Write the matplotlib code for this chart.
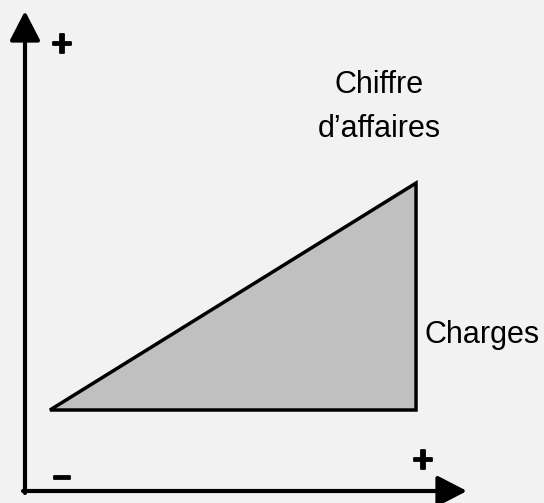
import matplotlib.pyplot as plt
import matplotlib.patheffects as pe
from matplotlib.patches import Polygon

# Données du schéma (unités arbitraires)
activite = [0, 10, 10]           # niveau d'activité
chiffre_affaires = [0, 6.2, 0]   # montant : droite du CA puis retour à l'axe
signes = ['+', '\u2013', '+']

plt.rcParams['font.family'] = ['Liberation Sans', 'DejaVu Sans']

W, H = 544, 503
fig = plt.figure(figsize=(W / 100, H / 100), dpi=100)
fig.patch.set_facecolor('#f2f2f2')
ax = fig.add_axes([0, 0, 1, 1])
ax.set_facecolor('#f2f2f2')

# échelle : 36.6 px par unité, origine du triangle en (50, 410) px
s = 36.6
x0, y0 = 50, 410


def px(x, y):
    return (x - x0) / s, (y0 - y) / s


ax.set_xlim(px(0, 0)[0], px(W, 0)[0])
ax.set_ylim(px(0, H)[1], px(0, 0)[1])
ax.axis('off')

# triangle CA / charges
tri = Polygon(list(zip(activite, chiffre_affaires)), closed=True,
              facecolor='#c0c0c0', edgecolor='black', lw=2.5, joinstyle='miter')
ax.add_patch(tri)

# axes fléchés
style = '-|>,head_length=1.2,head_width=0.62'
ax.annotate('', xy=px(25, 11), xytext=px(25, 493),
            arrowprops=dict(arrowstyle=style, lw=3, color='black',
                            mutation_scale=15, shrinkA=0, shrinkB=0))
ax.annotate('', xy=px(467, 491), xytext=px(23, 491),
            arrowprops=dict(arrowstyle=style, lw=3, color='black',
                            mutation_scale=15, shrinkA=0, shrinkB=0))

# signes
gras = [pe.withStroke(linewidth=1.3, foreground='black')]
ax.text(*px(62, 46), signes[0], fontsize=26, fontweight='bold',
        ha='center', va='center', path_effects=gras)
ax.text(*px(62, 478), signes[1], fontsize=23, fontweight='bold',
        ha='center', va='center', path_effects=gras)
ax.text(*px(423, 462), signes[2], fontsize=26, fontweight='bold',
        ha='center', va='center', path_effects=gras)

# libellés
ax.text(*px(379, 93), 'Chiffre', fontsize=22, ha='center', va='baseline')
ax.text(*px(379, 137), 'd\u2019affaires', fontsize=22, ha='center', va='baseline')
ax.text(*px(424, 343), 'Charges', fontsize=22, ha='left', va='baseline')

fig.savefig('out.png', dpi=100, facecolor=fig.get_facecolor())
